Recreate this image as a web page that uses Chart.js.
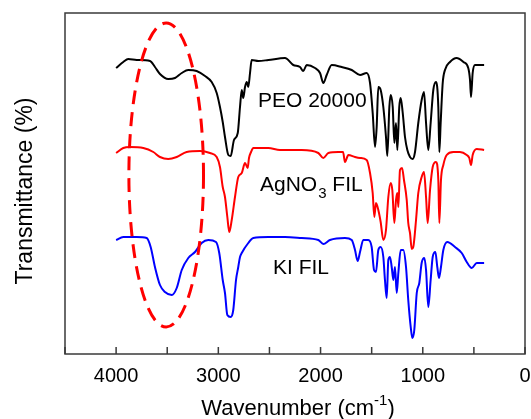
<!DOCTYPE html>
<html>
<head>
<meta charset="utf-8">
<script src="https://cdn.jsdelivr.net/npm/chart.js@4"></script>
<style>
  html, body { margin: 0; padding: 0; background: #fff; }
  canvas { display: block; }
</style>
</head>
<body>
<canvas id="ftirChart" width="531" height="419"></canvas>
<script>
// wavenumbers (cm-1) and transmittance (offset, arbitrary units)
const peoWn = [4000, 3930, 3881, 3799, 3668, 3620, 3571, 3490, 3424, 3358, 3294, 3212, 3130, 3065, 3016, 2984, 2957, 2935, 2902, 2879, 2847, 2810, 2788, 2771, 2756, 2739, 2722, 2707, 2690, 2674, 2609, 2511, 2348, 2267, 2201, 2169, 2136, 2054, 2005, 1973, 1940, 1891, 1793, 1695, 1614, 1549, 1516, 1490, 1467, 1451, 1435, 1412, 1386, 1360, 1347, 1327, 1314, 1294, 1278, 1262, 1249, 1230, 1216, 1196, 1174, 1151, 1125, 1099, 1076, 1044, 1011, 988, 968, 946, 923, 897, 871, 848, 838, 825, 805, 783, 734, 668, 603, 555, 538, 528, 512, 489, 400];
const peoT = [286, 292, 295, 294, 293, 287, 280, 275, 276, 281, 284, 283, 278, 272, 261, 247, 232, 217, 199, 198, 214, 221, 247, 264, 256, 267, 272, 267, 281, 294, 293, 294, 296, 289, 287, 283, 289, 286, 281, 271, 279, 289, 287, 284, 279, 281, 271, 241, 207, 227, 267, 264, 247, 217, 198, 247, 259, 247, 211, 231, 204, 247, 256, 241, 217, 204, 197, 195, 202, 231, 254, 262, 231, 204, 231, 264, 272, 247, 202, 231, 271, 284, 292, 296, 292, 286, 274, 257, 281, 289, 289];

const agWn = [4000, 3930, 3864, 3734, 3636, 3571, 3490, 3407, 3310, 3179, 3082, 3016, 2984, 2957, 2935, 2912, 2893, 2869, 2837, 2805, 2771, 2739, 2713, 2700, 2680, 2658, 2511, 2397, 2184, 2022, 1973, 1924, 1826, 1780, 1761, 1728, 1663, 1614, 1549, 1516, 1490, 1474, 1458, 1435, 1412, 1386, 1360, 1337, 1314, 1298, 1278, 1262, 1249, 1239, 1223, 1203, 1184, 1157, 1142, 1125, 1108, 1093, 1066, 1044, 1011, 988, 968, 952, 929, 903, 871, 848, 838, 822, 799, 766, 701, 636, 570, 545, 528, 512, 472, 400];
const agT = [201, 206, 207, 206, 202, 197, 195, 197, 202, 203, 201, 197, 187, 167, 157, 137, 122, 134, 157, 177, 181, 191, 186, 196, 202, 206, 206, 204, 204, 201, 196, 201, 202, 202, 192, 199, 197, 196, 194, 181, 161, 137, 151, 144, 132, 114, 124, 157, 171, 164, 131, 154, 161, 147, 184, 186, 174, 154, 131, 121, 105, 107, 134, 161, 177, 182, 157, 131, 164, 187, 192, 174, 131, 174, 189, 199, 202, 202, 199, 196, 189, 199, 205, 204];

const kiWn = [4000, 3930, 3799, 3701, 3662, 3620, 3571, 3522, 3456, 3407, 3358, 3294, 3228, 3163, 3098, 3023, 2991, 2957, 2935, 2912, 2879, 2854, 2827, 2805, 2788, 2771, 2707, 2658, 2511, 2348, 2184, 2022, 1973, 1908, 1761, 1695, 1663, 1637, 1614, 1582, 1533, 1500, 1477, 1458, 1435, 1412, 1386, 1370, 1353, 1337, 1321, 1304, 1288, 1272, 1255, 1239, 1216, 1191, 1164, 1142, 1118, 1102, 1083, 1059, 1034, 1011, 985, 968, 946, 923, 903, 877, 858, 841, 822, 799, 760, 685, 619, 570, 521, 472, 400];
const kiT = [114, 117, 117, 116, 107, 87, 69, 62, 59, 66, 84, 96, 102, 111, 114, 112, 101, 74, 61, 39, 37, 44, 74, 87, 97, 101, 111, 116, 117, 117, 116, 114, 110, 114, 116, 114, 104, 93, 102, 114, 114, 107, 84, 82, 104, 107, 97, 74, 56, 94, 97, 87, 74, 87, 61, 81, 104, 104, 87, 54, 27, 16, 24, 61, 71, 91, 96, 84, 47, 74, 97, 102, 87, 76, 87, 104, 112, 107, 101, 92, 86, 91, 91];

const seriesNames = ['PEO 20000', 'AgNO3 FIL', 'KI FIL'];
const seriesColors = ['#000000', '#ff0000', '#0000ff'];
const xTickLabels = [4000, 3000, 2000, 1000, 0];

// dashed ellipse around the O-H band
const bandCenter = 3510, bandHalfWidth = 365, bandMid = 179, bandHalfHeight = 152;

const toPoints = (wn, t) => wn.map((w, i) => ({ x: w, y: t[i] }));

const FONT = "'Liberation Sans', Arial, sans-serif";

const overlay = {
    id: 'overlay',
    afterDatasetsDraw(chart) {
        const { ctx, chartArea: a, scales: { x, y } } = chart;
        ctx.save();

        // ellipse
        const cx = x.getPixelForValue(bandCenter);
        const rx = Math.abs(x.getPixelForValue(bandCenter - bandHalfWidth) - cx);
        const cy = y.getPixelForValue(bandMid);
        const ry = Math.abs(y.getPixelForValue(bandMid + bandHalfHeight) - cy);
        ctx.strokeStyle = '#ff0000';
        ctx.lineWidth = 3;
        ctx.setLineDash([14, 8]);
        ctx.beginPath();
        ctx.ellipse(cx, cy, rx, ry, 0, 0, Math.PI * 2);
        ctx.stroke();
        ctx.setLineDash([]);

        // frame + inward ticks
        ctx.strokeStyle = '#3a3a3a';
        ctx.lineWidth = 1.5;
        ctx.strokeRect(a.left, a.top, a.right - a.left, a.bottom - a.top);
        ctx.beginPath();
        for (let v = 0; v <= 4500; v += 500) {
            const px = x.getPixelForValue(v);
            ctx.moveTo(px, a.bottom);
            ctx.lineTo(px, a.bottom - 7);
        }
        ctx.stroke();

        // series labels
        ctx.fillStyle = '#000';
        ctx.textBaseline = 'alphabetic';
        ctx.textAlign = 'left';
        ctx.font = '21px ' + FONT;
        ctx.fillText('PEO 20000', 258, 107);
        let px = 260;
        ctx.fillText('AgNO', px, 191);
        px += ctx.measureText('AgNO').width;
        ctx.font = '15px ' + FONT;
        ctx.fillText('3', px + 1, 198);
        px += ctx.measureText('3').width + 1;
        ctx.font = '21px ' + FONT;
        ctx.fillText(' FIL', px, 191);
        ctx.fillText('KI FIL', 273, 274);

        // x axis title with superscript
        const big = '22px ' + FONT, small = '15px ' + FONT;
        ctx.font = big;
        const w1 = ctx.measureText('Wavenumber (cm').width;
        const w3 = ctx.measureText(')').width;
        ctx.font = small;
        const w2 = ctx.measureText('-1').width;
        let tx = 298 - (w1 + w2 + w3) / 2;
        ctx.font = big;
        ctx.fillText('Wavenumber (cm', tx, 415);
        tx += w1;
        ctx.font = small;
        ctx.fillText('-1', tx, 405);
        tx += w2;
        ctx.font = big;
        ctx.fillText(')', tx, 415);

        // y axis title
        ctx.translate(32, 191);
        ctx.rotate(-Math.PI / 2);
        ctx.textAlign = 'center';
        ctx.font = '23px ' + FONT;
        ctx.fillText('Transmittance (%)', 0, 0);

        ctx.restore();
    }
};

const config = {
    type: 'line',
    data: {
        datasets: seriesNames.map((name, i) => ({
            label: name,
            data: toPoints([peoWn, agWn, kiWn][i], [peoT, agT, kiT][i]),
            borderColor: seriesColors[i],
            borderWidth: 2,
            pointRadius: 0,
            fill: false,
            cubicInterpolationMode: 'monotone'
        }))
    },
    options: {
        responsive: false,
        animation: false,
        layout: { padding: { top: 13, right: 6, left: 0, bottom: 0 } },
        plugins: { legend: { display: false }, tooltip: { enabled: false } },
        scales: {
            x: {
                type: 'linear',
                reverse: true,
                min: 0,
                max: 4500,
                grid: { display: false, drawTicks: false },
                border: { display: false },
                ticks: {
                    stepSize: 500,
                    autoSkip: false,
                    maxRotation: 0,
                    padding: 10,
                    color: '#000',
                    font: { family: FONT, size: 20 },
                    callback: v => xTickLabels.includes(v) ? String(v) : ''
                },
                afterFit: s => { s.height = 65; s.paddingLeft = 0; s.paddingRight = 0; }
            },
            y: {
                min: 0,
                max: 341,
                grid: { display: false, drawTicks: false },
                border: { display: false },
                ticks: { display: false },
                afterFit: s => { s.width = 65; }
            }
        }
    },
    plugins: [overlay]
};

const ctx = document.getElementById('ftirChart').getContext('2d');
const ftirChart = new Chart(ctx, config);
</script>
</body>
</html>
